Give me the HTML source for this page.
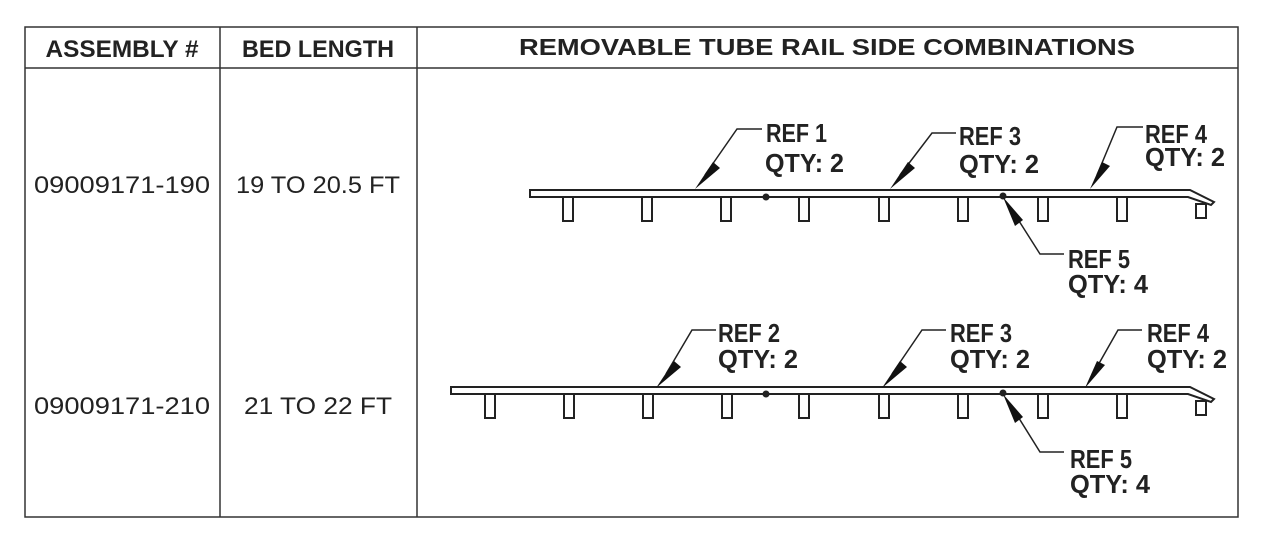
<!DOCTYPE html>
<html><head><meta charset="utf-8"><style>
html,body{margin:0;padding:0;background:#fff;}
svg{display:block;}
.h{font-family:"Liberation Sans",sans-serif;font-weight:bold;fill:#222;}
.t{font-family:"Liberation Sans",sans-serif;fill:#222;}
</style></head><body>
<svg width="1272" height="540" viewBox="0 0 1272 540" xmlns="http://www.w3.org/2000/svg">
<g stroke="#333" stroke-width="1.5" fill="none">
<rect x="25" y="27" width="1213" height="490"/>
<line x1="25" y1="68" x2="1238" y2="68"/>
<line x1="220" y1="27" x2="220" y2="517"/>
<line x1="417" y1="27" x2="417" y2="517"/>
</g>
<text class="h" x="122" y="57" font-size="24" text-anchor="middle" textLength="153" lengthAdjust="spacingAndGlyphs">ASSEMBLY #</text>
<text class="h" x="318" y="57" font-size="24" text-anchor="middle" textLength="152" lengthAdjust="spacingAndGlyphs">BED LENGTH</text>
<text class="h" x="827" y="55" font-size="23" text-anchor="middle" textLength="616" lengthAdjust="spacingAndGlyphs">REMOVABLE TUBE RAIL SIDE COMBINATIONS</text>
<text class="t" x="122" y="193" font-size="24" text-anchor="middle" textLength="176" lengthAdjust="spacingAndGlyphs">09009171-190</text>
<text class="t" x="318" y="193" font-size="24" text-anchor="middle" textLength="164" lengthAdjust="spacingAndGlyphs">19 TO 20.5 FT</text>
<text class="t" x="122" y="414" font-size="24" text-anchor="middle" textLength="176" lengthAdjust="spacingAndGlyphs">09009171-210</text>
<text class="t" x="318" y="414" font-size="24" text-anchor="middle" textLength="148" lengthAdjust="spacingAndGlyphs">21 TO 22 FT</text>

<g stroke="#222" stroke-width="2" fill="#fff">
<path d="M530 190 L1190 190 L1214 202 L1211 205 L1188 197 L530 197 Z"/>
<rect x="563" y="197" width="10" height="24"/><rect x="642" y="197" width="10" height="24"/>
<rect x="721" y="197" width="10" height="24"/><rect x="799" y="197" width="10" height="24"/>
<rect x="879" y="197" width="10" height="24"/><rect x="958" y="197" width="10" height="24"/>
<rect x="1038" y="197" width="10" height="24"/><rect x="1117" y="197" width="10" height="24"/>
<rect x="1196" y="204" width="10" height="14"/>
</g>
<circle cx="766" cy="197" r="3.5" fill="#222"/><circle cx="1003" cy="196" r="3.5" fill="#222"/>
<g stroke="#222" stroke-width="2" fill="#fff">
<path d="M451 387 L1190 387 L1214 399 L1211 402 L1188 394 L451 394 Z"/>
<rect x="485" y="394" width="10" height="24"/><rect x="564" y="394" width="10" height="24"/>
<rect x="643" y="394" width="10" height="24"/><rect x="722" y="394" width="10" height="24"/>
<rect x="799" y="394" width="10" height="24"/><rect x="879" y="394" width="10" height="24"/>
<rect x="958" y="394" width="10" height="24"/><rect x="1038" y="394" width="10" height="24"/>
<rect x="1117" y="394" width="10" height="24"/><rect x="1196" y="401" width="10" height="14"/>
</g>
<circle cx="766" cy="394" r="3.5" fill="#222"/><circle cx="1003" cy="393" r="3.5" fill="#222"/>

<g stroke="#222" stroke-width="1.5" fill="none">
<polyline points="762,129 737,129 705,175"/>
<polyline points="956,133 932,133 900,175"/>
<polyline points="1143,127 1117,127 1097,175"/>
<polyline points="1064,254 1040,254 1012,210"/>
<polyline points="716,330 692,330 666,374"/>
<polyline points="946,330 922,330 892,374"/>
<polyline points="1142,330 1118,330 1093,374"/>
<polyline points="1064,452 1040,452 1012,407"/>
</g>
<g fill="#111">
<polygon points="695,189 713,162 720,168"/>
<polygon points="890,189 908,162 915,168"/>
<polygon points="1090,189 1102,162 1110,166"/>
<polygon points="1003,197 1023,220 1015,226"/>
<polygon points="656,388 674,361 681,367"/>
<polygon points="882,388 900,361 907,367"/>
<polygon points="1085,388 1097,361 1105,365"/>
<polygon points="1003,394 1023,417 1015,423"/>
</g>
<g class="h" font-size="26">
<text x="766" y="142" textLength="61" lengthAdjust="spacingAndGlyphs">REF 1</text><text x="765" y="172" textLength="79" lengthAdjust="spacingAndGlyphs">QTY: 2</text>
<text x="959" y="145" textLength="62" lengthAdjust="spacingAndGlyphs">REF 3</text><text x="959" y="173" textLength="80" lengthAdjust="spacingAndGlyphs">QTY: 2</text>
<text x="1145" y="143" textLength="62" lengthAdjust="spacingAndGlyphs">REF 4</text><text x="1145" y="166" textLength="80" lengthAdjust="spacingAndGlyphs">QTY: 2</text>
<text x="1068" y="268" textLength="62" lengthAdjust="spacingAndGlyphs">REF 5</text><text x="1068" y="293" textLength="80" lengthAdjust="spacingAndGlyphs">QTY: 4</text>
<text x="718" y="342" textLength="62" lengthAdjust="spacingAndGlyphs">REF 2</text><text x="718" y="368" textLength="80" lengthAdjust="spacingAndGlyphs">QTY: 2</text>
<text x="950" y="342" textLength="62" lengthAdjust="spacingAndGlyphs">REF 3</text><text x="950" y="368" textLength="80" lengthAdjust="spacingAndGlyphs">QTY: 2</text>
<text x="1147" y="342" textLength="62" lengthAdjust="spacingAndGlyphs">REF 4</text><text x="1147" y="368" textLength="80" lengthAdjust="spacingAndGlyphs">QTY: 2</text>
<text x="1070" y="468" textLength="62" lengthAdjust="spacingAndGlyphs">REF 5</text><text x="1070" y="493" textLength="80" lengthAdjust="spacingAndGlyphs">QTY: 4</text>
</g>
</svg>
</body></html>
